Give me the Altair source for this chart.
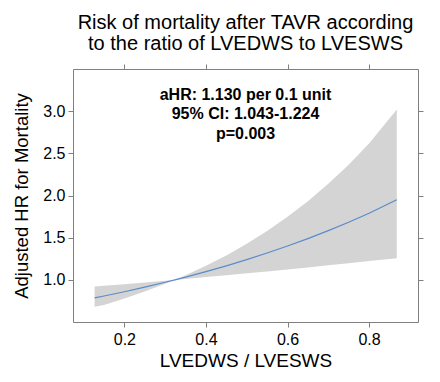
import altair as alt
import pandas as pd

# values
ratio = [0.127, 0.15, 0.2, 0.25, 0.3, 0.324, 0.35, 0.4, 0.45, 0.5, 0.55, 0.6, 0.65, 0.7, 0.75, 0.8, 0.868]
hr = [0.786, 0.808, 0.859, 0.914, 0.971, 1.0, 1.032, 1.097, 1.166, 1.240, 1.318, 1.401, 1.489, 1.583, 1.683, 1.789, 1.950]
hr_upper = [0.920, 0.929, 0.949, 0.969, 0.990, 1.0, 1.054, 1.166, 1.290, 1.427, 1.579, 1.747, 1.933, 2.138, 2.365, 2.617, 3.02]
hr_lower = [0.680, 0.703, 0.778, 0.861, 0.953, 1.0, 1.011, 1.033, 1.054, 1.077, 1.100, 1.123, 1.147, 1.172, 1.196, 1.222, 1.257]

x_ticks = [0.2, 0.4, 0.6, 0.8]
y_ticks = [1.0, 1.5, 2.0, 2.5, 3.0]
title_lines = ["Risk of mortality after TAVR according", "to the ratio of LVEDWS to LVESWS"]
annotation = "aHR: 1.130 per 0.1 unit\n95% CI: 1.043-1.224\np=0.003"

df = pd.DataFrame({"ratio": ratio, "hr": hr, "lo": hr_lower, "hi": hr_upper})

FONT = "Liberation Sans"
W, H = 345, 253
AX = "#7f7f7f"

xs = alt.Scale(domain=[0.074, 0.92], nice=False, zero=False)
ys = alt.Scale(domain=[0.5, 3.5], nice=False, zero=False)

common_axis = dict(domainColor=AX, tickColor=AX, tickSize=5, grid=False,
                   labelFont=FONT, titleFont=FONT, labelColor="black", titleColor="black",
                   titleFontWeight="normal")

x_bottom = alt.Axis(values=x_ticks, format=".1f", labelFontSize=16, title="LVEDWS / LVESWS",
                    titleFontSize=19, labelPadding=4, titlePadding=4, **common_axis)
y_left = alt.Axis(values=y_ticks, format=".1f", labelFontSize=16, title="Adjusted HR for Mortality",
                  titleFontSize=18.5, labelPadding=3, titlePadding=11, **common_axis)
x_top = alt.Axis(values=x_ticks, orient="top", labels=False, title=None, **common_axis)
y_right = alt.Axis(values=y_ticks, orient="right", labels=False, title=None, **common_axis)

band = alt.Chart(df).mark_area(color="#d4d4d4", opacity=1).encode(
    x=alt.X("ratio:Q", scale=xs, axis=x_bottom),
    y=alt.Y("lo:Q", scale=ys, axis=y_left),
    y2="hi:Q",
)

line = alt.Chart(df).mark_line(color="#5b8bc9", strokeWidth=1.2).encode(
    x=alt.X("ratio:Q", scale=xs, axis=x_top),
    y=alt.Y("hr:Q", scale=ys, axis=y_right),
)

text = alt.Chart(pd.DataFrame({"t": [annotation]})).mark_text(
    font=FONT, fontSize=16, fontWeight="bold", color="black", align="center",
    baseline="alphabetic", lineBreak="\n", lineHeight=19.5,
).encode(x=alt.value(W / 2), y=alt.value(30.5), text="t:N")

chart = alt.layer(band, line, text).resolve_axis(x="independent", y="independent").properties(
    width=W, height=H,
    title=alt.TitleParams(text=title_lines, font=FONT, fontSize=20, fontWeight="normal",
                          color="black", anchor="middle", lineHeight=21, offset=10),
    autosize=alt.AutoSizeParams(type="none"),
    padding={"left": 65, "top": 61, "right": 14, "bottom": 52},
).configure_view(stroke=None)

chart.save("out.html", embed_options={"renderer": "svg", "actions": False})
